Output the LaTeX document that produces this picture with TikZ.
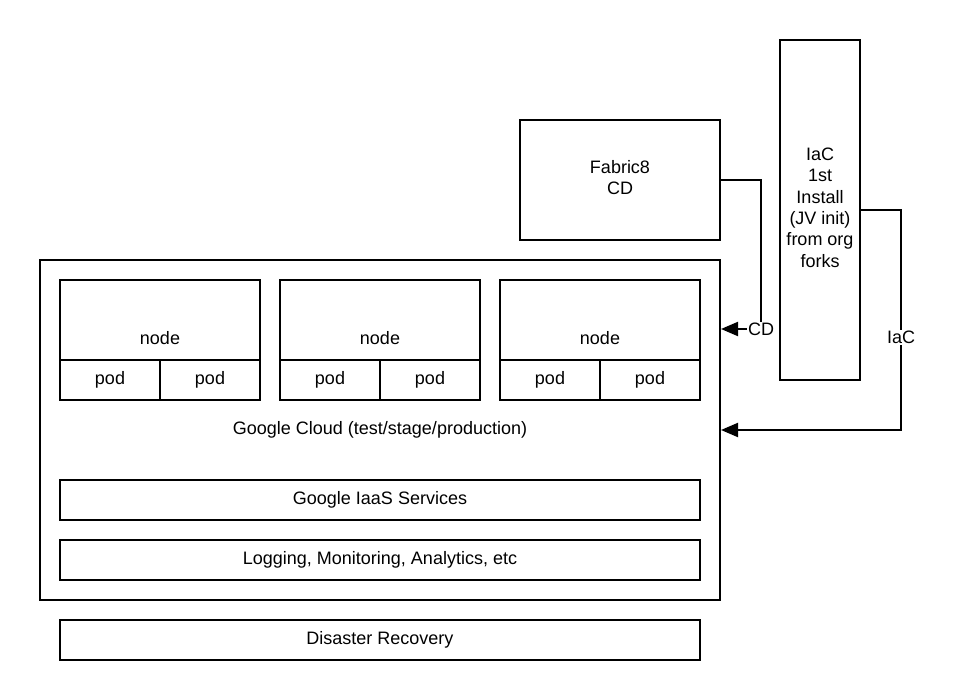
\documentclass[tikz,border=0pt]{standalone}
\usepackage{fontspec}
\setmainfont{Liberation Sans}
\usetikzlibrary{arrows.meta}

\begin{document}
\begin{tikzpicture}%
        [x=1pt, y=-1pt,
        font=\fontsize{18}{21.4}\selectfont,
        box/.style={draw=black, line width=2pt, inner sep=0pt, align=center, text depth=5pt},
        link/.style={draw=black, line width=2pt, -{Triangle[length=17pt,width=14pt]}},
        lbl/.style={fill=white, inner sep=1pt}]

    \useasboundingbox (0,0) rectangle (954,700);
    %% Outer boxes
    \node[box, minimum width=680pt, minimum height=340pt] (cloud) at (380,430) {Google Cloud (test/stage/production)};
    \node[box, minimum width=200pt, minimum height=120pt] (fabric) at (620,180) {Fabric8\\CD};
    \node[box, minimum width=80pt, minimum height=340pt] (iac) at (820,210) {IaC\\1st\\Install\\(JV init)\\from org\\forks};
    %%
    %% Nodes and pods
    %%
    \foreach \i/\cx in {1/160, 2/380, 3/600} {
        \node[box, minimum width=200pt, minimum height=120pt] (node\i) at (\cx,340) {node};
        \node[box, minimum width=100pt, minimum height=40pt] (pod\i a) at (\cx-50,380) {pod};
        \node[box, minimum width=100pt, minimum height=40pt] (pod\i b) at (\cx+50,380) {pod};
    }
    %%
    %% Service bars
    %%
    \node[box, minimum width=640pt, minimum height=40pt] (iaas) at (380,500) {Google IaaS Services};
    \node[box, minimum width=640pt, minimum height=40pt] (logging) at (380,560) {Logging, Monitoring, Analytics, etc};
    \node[box, minimum width=640pt, minimum height=40pt] (recovery) at (380,640) {Disaster Recovery};
    %%
    %% Connectors
    %%
    \draw[link] (fabric.east) -- ++(40,0) |- node[lbl, pos=0.5]{CD} (cloud.east |- 0,329);
    \draw[link] (iac.east) -- ++(40,0) |- node[lbl, pos=0.29]{IaC} (cloud.east);
\end{tikzpicture}
\end{document}
